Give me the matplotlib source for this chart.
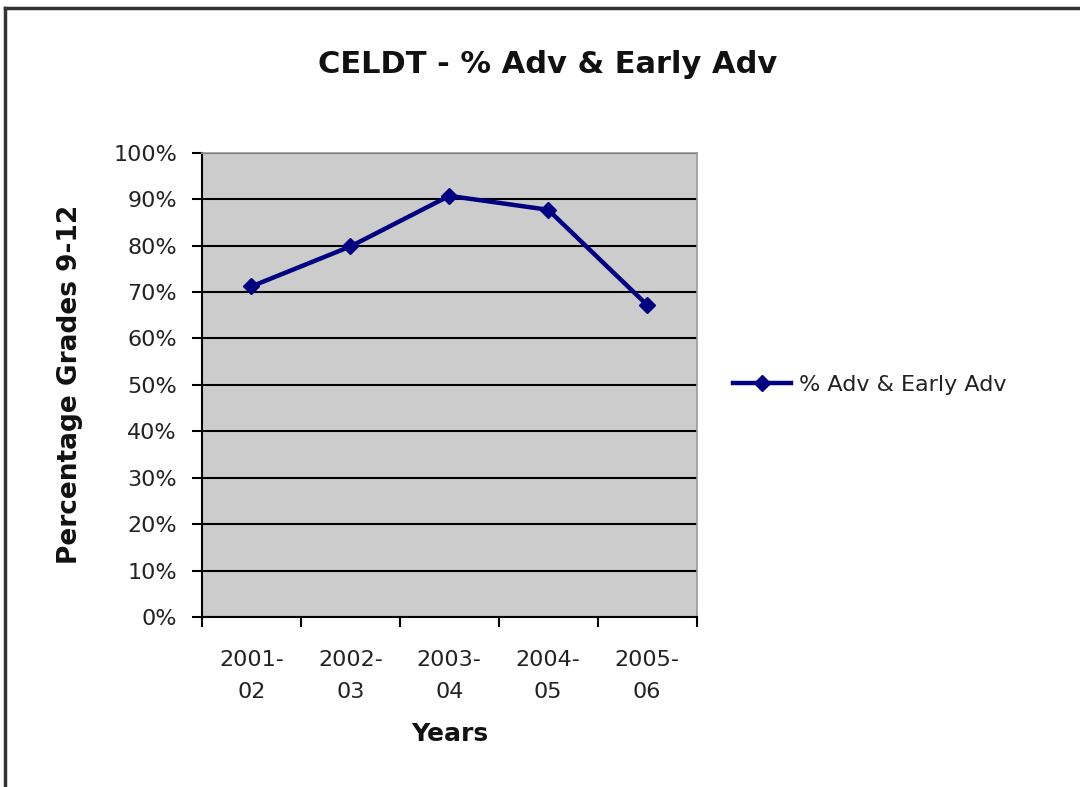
import numpy as np
import matplotlib.pyplot as plt
from matplotlib.ticker import FixedLocator, PercentFormatter
from matplotlib.lines import Line2D

years = ['2001-\n02', '2002-\n03', '2003-\n04', '2004-\n05', '2005-\n06']
pct_adv = [71.2, 79.8, 90.7, 87.7, 67.2]
y_ticks = [0, 10, 20, 30, 40, 50, 60, 70, 80, 90, 100]

fig = plt.figure(figsize=(10.8, 7.87), dpi=100)
ax = fig.add_axes([0.187, 0.216, 0.458, 0.590])
ax.set_facecolor('#cccccc')

x = np.arange(len(years))
ax.plot(x, pct_adv, color='#000080', lw=3.2, marker='D', ms=8.5,
        label='% Adv & Early Adv', zorder=3)

ax.set_xlim(-0.5, len(years) - 0.5)
ax.set_ylim(0, 100)
ax.yaxis.set_major_locator(FixedLocator(y_ticks))
ax.yaxis.set_major_formatter(PercentFormatter(decimals=0))
ax.grid(axis='y', color='black', lw=1.5)
ax.set_axisbelow(True)

ax.set_xticks(np.arange(-0.5, len(years)), [''] * (len(years) + 1))
ax.set_xticks(x, years, minor=True)
ax.tick_params(axis='x', which='minor', length=0, pad=24)
ax.tick_params(axis='x', which='major', length=7, width=1.5, direction='out')
ax.tick_params(axis='y', which='major', length=7, width=1.5, direction='out', pad=11)
ax.tick_params(labelsize=16, labelcolor='#222222')
for lbl in ax.get_xticklabels(minor=True):
    lbl.set_fontsize(16)
    lbl.set_color('#222222')
    lbl.set_linespacing(1.75)

for s in ['left', 'bottom']:
    ax.spines[s].set_linewidth(1.5)
for s in ['top', 'right']:
    ax.spines[s].set_color('#999999')
    ax.spines[s].set_linewidth(1.2)

ax.set_xlabel('Years', fontsize=18, fontweight='bold', labelpad=14, color='#111111')
ax.set_ylabel('Percentage Grades 9-12', fontsize=19, fontweight='bold', labelpad=22,
              color='#111111')
fig.text(0.507, 0.918, 'CELDT - % Adv & Early Adv', ha='center', va='center',
         fontsize=22, fontweight='bold', color='#111111')

fig.legend(loc='center left', bbox_to_anchor=(0.66, 0.511), frameon=False,
           fontsize=16, handlelength=2.6, handletextpad=0.4, labelcolor='#222222')

# outer chart border (top and left edges visible)
fig.add_artist(Line2D([0.005, 1.0], [0.99, 0.99], color='#333333', lw=2.5,
                      transform=fig.transFigure))
fig.add_artist(Line2D([0.005, 0.005], [0.0, 0.99], color='#333333', lw=2.5,
                      transform=fig.transFigure))

fig.savefig('out.png', dpi=100)
